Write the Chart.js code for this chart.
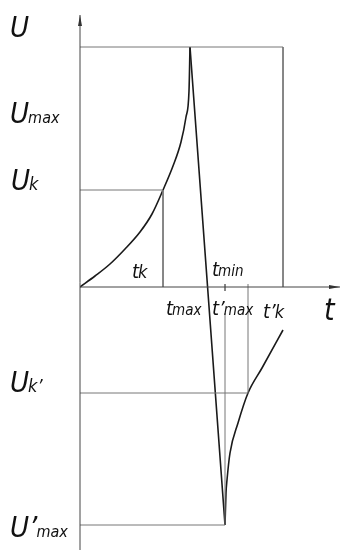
<!DOCTYPE html>
<html>
<head>
<meta charset="utf-8">
<script src="https://cdn.jsdelivr.net/npm/chart.js@4"></script>
<style>
  body { margin: 0; background: #fff; }
  #wrap { width: 341px; height: 552px; }
</style>
</head>
<body>
<div id="wrap"><canvas id="myChart" width="341" height="552"></canvas></div>
<script>
// key points (t, U) of the diagram
const tK = 8.3, tPeak = 11, tMaxP = 14.5, tKP = 16.8, tBox = 20.3
const uK = 9.7, uPeak = 24, uMaxP = -23.8, uKP = -10.6

// charge curve
const chargeT = [0, 1.5, 3, 4.5, 6, 7.2, 8.3, 9.3, 10.1, 10.6, 10.9, 11]
const chargeU = [0, 1.1, 2.3, 3.8, 5.5, 7.3, 9.7, 12.1, 14.5, 17.0, 19.6, 24]

// fast discharge
const dischargeT = [tPeak, tMaxP]
const dischargeU = [uPeak, uMaxP]

// recovery curve
const recoveryT = [14.5, 14.6, 14.7, 15.0, 15.8, 16.8, 18.2, 20.3]
const recoveryU = [-23.8, -20.6, -19.3, -16.6, -13.6, -10.6, -8.1, -4.3]

function pts(xs, ys){
  var out = []
  for(var i=0;i<xs.length;i++){ out.push({x: xs[i], y: ys[i]}) }
  return out
}

var FONT = '"Liberation Sans Narrow", "DejaVu Sans Condensed", sans-serif'

function guide(data){
  return { data: data, showLine: true, borderColor: '#777', borderWidth: 1, pointRadius: 0, tension: 0 }
}
function curve(data){
  return { data: data, showLine: true, borderColor: '#1a1a1a', borderWidth: 1.6, pointRadius: 0,
           cubicInterpolationMode: 'monotone' }
}

const labelsPlugin = {
  id: 'diagram',
  afterDatasetsDraw(chart){
    const ctx = chart.ctx
    const xs = chart.scales.x, ys = chart.scales.y
    const x0 = xs.getPixelForValue(0), y0 = ys.getPixelForValue(0)
    const a = chart.chartArea
    ctx.save()
    // axes
    ctx.strokeStyle = '#444'
    ctx.lineWidth = 1
    ctx.beginPath()
    ctx.moveTo(x0, a.top); ctx.lineTo(x0, a.bottom)
    ctx.moveTo(x0, y0); ctx.lineTo(a.right, y0)
    ctx.stroke()
    ctx.fillStyle = '#333'
    ctx.beginPath()
    ctx.moveTo(x0, a.top); ctx.lineTo(x0 - 2, a.top + 11); ctx.lineTo(x0 + 2, a.top + 11); ctx.closePath()
    ctx.fill()
    ctx.beginPath()
    ctx.moveTo(a.right, y0); ctx.lineTo(a.right - 11, y0 - 2); ctx.lineTo(a.right - 11, y0 + 2); ctx.closePath()
    ctx.fill()

    // labels
    ctx.fillStyle = '#111'
    ctx.textBaseline = 'alphabetic'
    function lab(main, sub, x, y, size, subSize){
      ctx.font = 'italic ' + size + 'px ' + FONT
      ctx.fillText(main, x, y)
      var w = ctx.measureText(main).width
      if(sub){
        ctx.font = 'italic ' + subSize + 'px ' + FONT
        ctx.fillText(sub, x + w - 1, y)
      }
    }
    lab('U', '', 10, 37, 29)
    lab('U', 'max', 10, 123, 29, 16)
    lab('U', 'k', 11, 190, 29, 18)
    lab('U', "k\u2019", 10, 392, 29, 18)
    lab("U\u2019", 'max', 10, 537, 29, 16)
    lab('t', 'k', 132, 278, 20, 18)
    lab('t', 'min', 212, 276, 20, 15)
    lab('t', 'max', 166, 315, 20, 15)
    lab("t\u2019", 'max', 212, 315, 20, 15)
    lab("t\u2019", 'k', 263, 318, 20, 18)
    lab('t', '', 324, 320, 30)
    ctx.restore()
  }
}

new Chart(document.getElementById('myChart'), {
  type: 'scatter',
  data: {
    datasets: [
      guide([{x: 0, y: uPeak}, {x: tBox, y: uPeak}, {x: tBox, y: 0}]),
      guide([{x: 0, y: uK}, {x: tK, y: uK}, {x: tK, y: 0}]),
      guide([{x: 0, y: uMaxP}, {x: tMaxP, y: uMaxP}, {x: tMaxP, y: -2.6}]),
      guide([{x: tMaxP, y: 0.3}, {x: tMaxP, y: -0.4}]),
      guide([{x: 0, y: uKP}, {x: tKP, y: uKP}, {x: tKP, y: 0.3}]),
      curve(pts(chargeT, chargeU)),
      curve(pts(dischargeT, dischargeU)),
      curve(pts(recoveryT, recoveryU))
    ]
  },
  options: {
    responsive: false,
    animation: false,
    layout: { padding: { left: 80, right: 1, top: 15, bottom: 2 } },
    plugins: { legend: { display: false }, tooltip: { enabled: false } },
    scales: {
      x: { type: 'linear', min: 0, max: 26, display: false },
      y: { type: 'linear', min: -26.3, max: 27.2, display: false }
    }
  },
  plugins: [labelsPlugin]
})
</script>
</body>
</html>
